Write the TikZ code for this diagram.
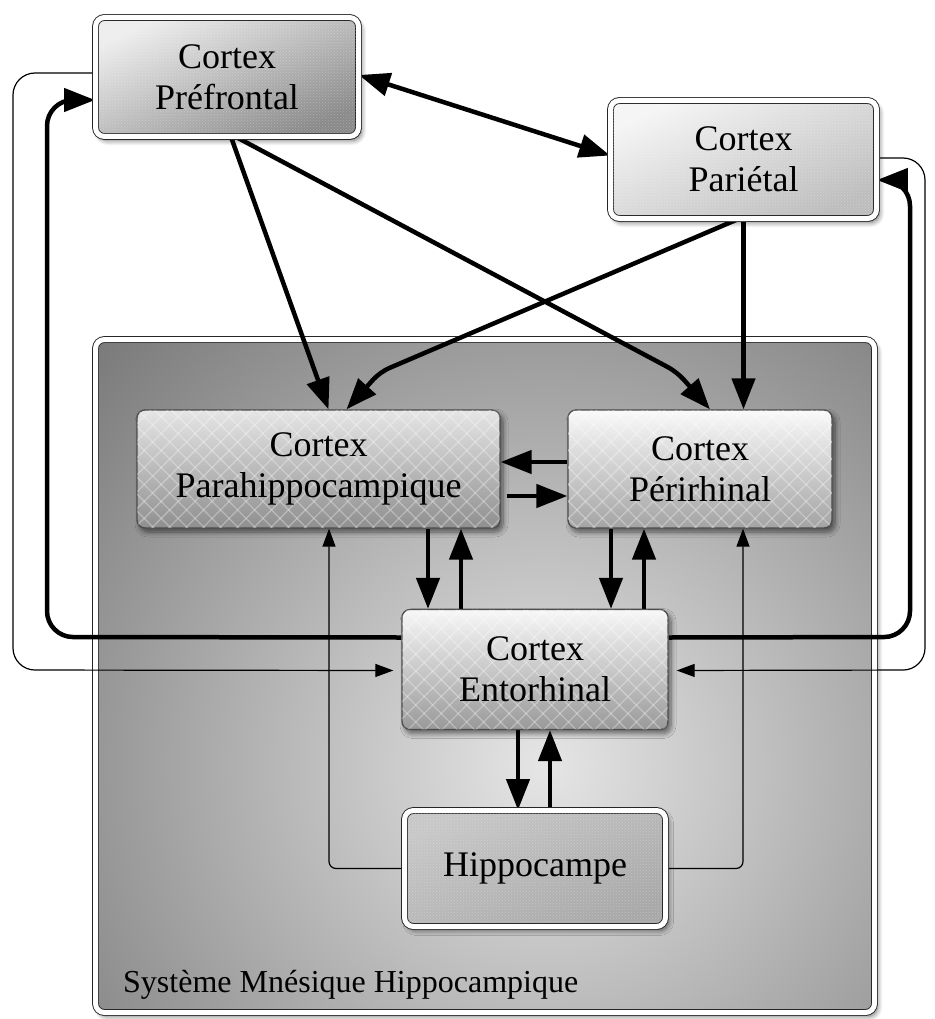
\documentclass[tikz,border=0pt]{standalone}
\usepackage{fontspec}
\setmainfont{Liberation Serif}
\usetikzlibrary{arrows.meta,shadows.blur,patterns,patterns.meta}

\pgfdeclarelayer{frame}
\pgfdeclarelayer{links}
\pgfsetlayers{frame,links,main}

\tikzset{
  boxtext/.style={font=\fontsize{36}{41}\selectfont, align=center, text=black, inner sep=0pt},
  softshadow/.style={blur shadow={shadow xshift=3pt, shadow yshift=-4pt,
      shadow blur radius=5pt, shadow blur steps=8, shadow opacity=55}},
  lattice/.style={
    postaction={pattern={Lines[angle=45,distance=12pt,line width=1.3pt]}, pattern color=white, opacity=0.3},
    postaction={pattern={Lines[angle=-45,distance=12pt,line width=1.3pt]}, pattern color=white, opacity=0.3}},
  finegrain/.style={postaction={pattern=crosshatch dots, pattern color=white, opacity=0.25}},
  innerbox/.style={boxtext, rounded corners=8pt, minimum height=118pt,
      draw=black!70, line width=1.3pt, softshadow, lattice, shading angle=45},
  framedbox/.style={boxtext, rounded corners=9pt, draw=black!85, line width=0.9pt,
      double=white, double distance=5pt, softshadow, finegrain},
  bigtip/.tip={Triangle[length=31pt,width=23pt]},
  smalltip/.tip={Triangle[length=18pt,width=13pt]},
  strong/.style={line width=4.5pt, draw=black, -bigtip},
  strongboth/.style={line width=4.5pt, draw=black, bigtip-bigtip},
  faint/.style={line width=1.2pt, draw=black, -smalltip},
}

\begin{document}
\begin{tikzpicture}[x=1pt, y=-1pt]
\useasboundingbox (0,0) rectangle (934,1019);

% ---- boxes ----
\node[framedbox, minimum width=263pt, minimum height=119pt,
      top color=black!7, bottom color=black!46, shading angle=25] (pf) at (227,77) {Cortex\\Préfrontal};
\node[framedbox, minimum width=266pt, minimum height=118pt,
      top color=black!4, bottom color=black!26, shading angle=25] (pt) at (743.5,159.5) {Cortex\\Pariétal};
\node[innerbox, minimum width=363pt, top color=black!10, bottom color=black!44] (ph) at (318.5,469) {Cortex\\Parahippocampique};
\node[innerbox, minimum width=264pt, top color=black!2, bottom color=black!36] (pr) at (700,469) {Cortex\\Périrhinal};
\node[innerbox, minimum width=266pt, minimum height=120pt, top color=black!3, bottom color=black!40] (en) at (535,669.5) {Cortex\\Entorhinal};
\node[framedbox, minimum width=261pt, minimum height=116pt,
      top color=black!22, bottom color=black!34, shading angle=25] (hi) at (535,868.5) {Hippocampe};

% ---- system frame ----
\begin{pgfonlayer}{frame}
  \fill[black!62, rounded corners=9pt, softshadow] (95.5,339.5) rectangle (874.5,1012.5);
  \begin{scope}
    \clip[rounded corners=9pt] (95.5,339.5) rectangle (874.5,1012.5);
    \shade[inner color=black!10, outer color=black!62] (545,765) circle (760pt);
  \end{scope}
  \draw[rounded corners=9pt, draw=black!85, line width=0.9pt, double=white, double distance=5pt]
    (95.5,339.5) rectangle (874.5,1012.5);
\end{pgfonlayer}
\node[font=\fontsize{32}{38}\selectfont, anchor=base west, inner sep=0pt] (sys) at (123,992) {Système Mnésique Hippocampique};

% ---- connections ----
\coordinate (d1) at ([xshift=-107pt]en.north);
\coordinate (u1) at ([xshift=-74pt]en.north);
\coordinate (d2) at ([xshift=76pt]en.north);
\coordinate (u2) at ([xshift=109pt]en.north);
\coordinate (d3) at ([xshift=-17pt]en.south);
\coordinate (u3) at ([xshift=15pt]en.south);
\coordinate (bendA) at (677,372);
\coordinate (bendB) at (380,372);

\begin{pgfonlayer}{links}
  % cortical inputs
  \draw[strongboth] ([yshift=2pt]pf.east) -- ([yshift=4pt]pt.west);
  \draw[strong] ([xshift=4pt]pf.south) -- ([xshift=10pt]ph.north);
  \draw[strong, rounded corners=10pt] ([xshift=9pt]pf.south) -- (bendA) -- ([xshift=10pt]pr.north);
  \draw[strong, rounded corners=10pt] ([xshift=-5pt]pt.south) -- (bendB) -- ([xshift=28pt]ph.north);
  \draw[strong] (pt.south) -- (pt.south |- pr.north);

  % between parahippocampal and perirhinal
  \draw[strong] ([yshift=7pt]pr.west) -- ([yshift=7pt]ph.east);
  \draw[strong] ([xshift=6pt,yshift=-27pt]ph.east) -- ([yshift=-27pt]pr.west);

  % to and from the entorhinal cortex
  \draw[strong] (d1 |- ph.south) -- (d1);
  \draw[strong] (u1) -- (u1 |- ph.south);
  \draw[strong] (d2 |- pr.south) -- (d2);
  \draw[strong] (u2) -- (u2 |- pr.south);
  \draw[strong] (d3) -- (d3 |- hi.north);
  \draw[strong] (u3 |- hi.north) -- (u3);

  % hippocampal outputs
  \draw[faint, rounded corners=7pt] (hi.west) -| ([xshift=10.5pt]ph.south);
  \draw[faint, rounded corners=7pt] (hi.east) -| ([xshift=43pt]pr.south);

  % entorhinal feedback to the neocortex
  \draw[strong, rounded corners=26pt] ([yshift=32pt]en.west) -- (47,637) -- (47,100) -- ([yshift=-23pt]pf.west);
  \draw[strong, rounded corners=26pt] ([yshift=32pt]en.east) -- (910,637) -- (910,180) -- ([yshift=-20.5pt]pt.east);

  % neocortical inputs to the entorhinal cortex
  \draw[faint, rounded corners=22pt, shorten >=8pt] ([yshift=4pt]pf.west) -- (13,73) -- (13,670) -- ([yshift=-1pt]en.west);
  \draw[faint, rounded corners=22pt, shorten >=8pt] ([yshift=1.5pt]pt.east) -- (925,158) -- (925,670) -- ([yshift=-1pt]en.east);
\end{pgfonlayer}
\end{tikzpicture}
\end{document}
